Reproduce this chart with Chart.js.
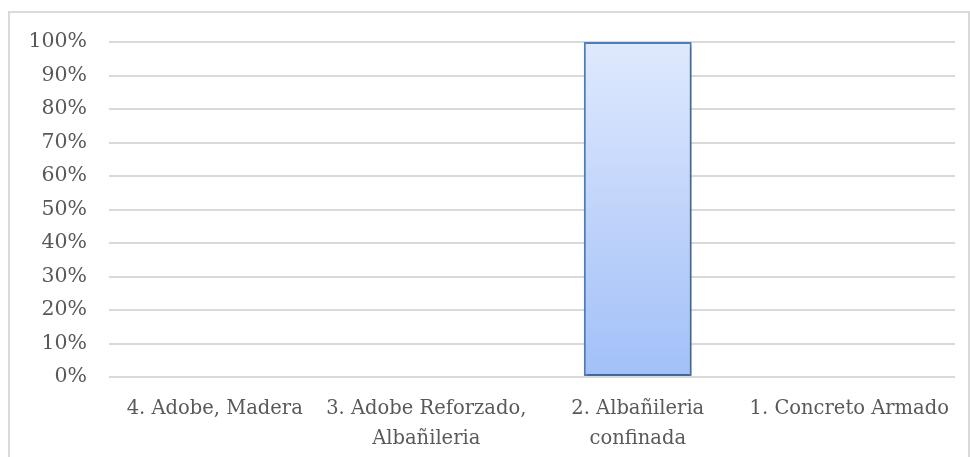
<!DOCTYPE html>
<html>
<head>
<meta charset="utf-8">
<style>
  html, body { margin: 0; padding: 0; background: #fff; overflow: hidden; }
  #frame { position: absolute; left: 8px; top: 11px; width: 962px; height: 470px; border: 2px solid #d9d9d9; box-sizing: border-box; }
  #wrap { position: absolute; left: 0; top: 0; width: 970px; height: 457px; }
</style>
</head>
<body>
<div id="frame"></div>
<div id="wrap"><canvas id="mychart" width="970" height="457"></canvas></div>
<script src="https://cdn.jsdelivr.net/npm/chart.js@4/dist/chart.umd.min.js"></script>
<script>
// datos
const categorias = [
  '4. Adobe, Madera',
  ['3. Adobe Reforzado,', 'Albañileria'],
  ['2. Albañileria', 'confinada'],
  '1. Concreto Armado'
];
const valores = [0, 0, 100, 0];
const ticksY = [0, 10, 20, 30, 40, 50, 60, 70, 80, 90, 100];

// sombra suave de la barra
const sombra = {
  id: 'sombra',
  beforeDatasetDraw(chart) {
    const c = chart.ctx;
    c.save();
    c.shadowColor = 'rgba(0,0,0,0.3)';
    c.shadowBlur = 4;
    c.shadowOffsetX = 1;
    c.shadowOffsetY = 2;
  },
  afterDatasetDraw(chart) {
    chart.ctx.restore();
  },
};

let ctx = document.getElementById('mychart');
let myChart = new Chart(ctx, {
  type: 'bar',
  data: {
    labels: categorias,
    datasets: [{
      data: valores,
      backgroundColor: (c) => {
        const area = c.chart.chartArea;
        if (!area) return '#c4d7fa';
        const g = c.chart.ctx.createLinearGradient(0, area.top, 0, area.bottom);
        g.addColorStop(0, '#dfe9fd');
        g.addColorStop(1, '#a2c0f8');
        return g;
      },
      borderColor: '#4f81bd',
      borderWidth: 2,
      borderSkipped: false,
      categoryPercentage: 1,
      barPercentage: 0.51,
    }],
  },
  plugins: [sombra],
  options: {
    responsive: false,
    animation: false,
    devicePixelRatio: 1,
    layout: { padding: { left: 0, right: 15, top: 42, bottom: 0 } },
    plugins: { legend: { display: false }, tooltip: { enabled: false } },
    scales: {
      x: {
        grid: { display: false, drawTicks: false },
        border: { display: false },
        ticks: {
          color: '#595959',
          font: { family: "'DejaVu Serif', serif", size: 19.5, lineHeight: 1.54 },
          padding: 17, maxRotation: 0, autoSkip: false,
        },
        afterFit: (s) => { s.height = 80; },
      },
      y: {
        min: 0,
        max: 100,
        afterBuildTicks: (s) => { s.ticks = ticksY.map(v => ({ value: v })); },
        grid: { color: '#d9d9d9', lineWidth: 2, drawTicks: false },
        border: { display: false },
        ticks: {
          color: '#595959',
          font: { family: "'DejaVu Serif', serif", size: 20.5 },
          padding: 22, callback: (v) => v + '%',
        },
        afterFit: (s) => { s.width = 109; },
      },
    },
  },
});
</script>
</body>
</html>
